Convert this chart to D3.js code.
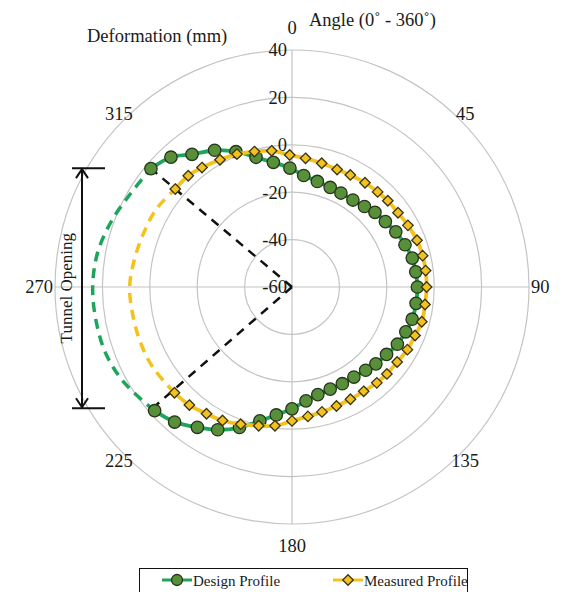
<!DOCTYPE html>
<html>
<head>
<meta charset="utf-8">
<script src="https://cdn.jsdelivr.net/npm/d3@7"></script>
<style>
  body { margin: 0; background: #fff; }
  svg { display: block; font-family: "Liberation Serif", "DejaVu Serif", serif; }
</style>
</head>
<body>
<svg id="chart" width="562" height="592"></svg>
<script>
// measured points (angle in degrees clockwise from top, deformation in mm)
var pointAngles = [310, 317, 323, 330.5, 337.5, 344.5, 351.5, 359, 6, 13.5, 21, 27.5, 35, 42, 48, 55, 62, 69.5, 76.5, 83,
                   90, 97.5, 105, 111.5, 118.5, 125.5, 132.5, 138.5, 145.5, 152.5, 159.5, 166.5, 173, 180, 187, 193.5,
                   200.5, 207.5, 214, 221, 228];
var designValues = [17.7, 14.9, 10.1, 6.3, 1.8, -3.2, -6.8, -9.8, -12.7, -14.2, -15.0, -15.3, -15.2, -14.3, -12.9, -11.9,
                    -10.4, -9.1, -7.8, -7.4, -7.1, -7.2, -7.5, -8.4, -9.4, -11.0, -12.0, -13.1, -13.9, -14.0, -14.0, -13.3,
                    -11.6, -8.6, -5.6, -1.9, 3.3, 7.9, 11.4, 15.5, 18.0];
var measuredValues = [4.3, 4.2, 3.1, 1.7, 0.7, -0.7, -1.9, -4.3, -5.4, -6.3, -6.9, -6.7, -6.3, -6.0, -5.6, -5.4, -4.6,
                      -3.7, -3.3, -3.2, -3.2, -3.4, -3.3, -4.2, -4.6, -5.5, -5.7, -6.0, -6.6, -6.6, -6.4, -5.8, -5.0,
                      -3.5, -1.0, 0.2, 1.8, 3.5, 4.5, 6.0, 6.7];

// tunnel opening (dashed) part
var gapAngles = [228, 240, 250, 260, 270, 280, 290, 300, 310];
var designGap = [18.0, 21.4, 23.4, 23.9, 24.1, 23.3, 21.1, 18.7, 17.7];
var measuredGap = [6.7, 7.8, 8.1, 8.2, 8.5, 7.5, 6.6, 6.0, 4.3];

var openingAngles = [310, 229];
var openingDepth = 18;

var radialTicks = [-60, -40, -20, 0, 20, 40];
var angleTicks = [0, 45, 90, 135, 180, 225, 270, 315];
var seriesNames = ["Design Profile", "Measured Profile"];

var greenLine = "#1fa55b", greenFill = "#58903a";
var yellowLine = "#f5c21b", yellowFill = "#f3c21e";

var width = 562, height = 592;
var cx = 292, cy = 287, R = 237;

var svg = d3.select("#chart");
var g = svg.append("g").attr("transform", "translate(" + cx + "," + cy + ")");

var r = d3.scaleLinear().domain([-60, 40]).range([0, R]);
var rad = function(a) { return a * Math.PI / 180; };

// rings
g.selectAll(".ring")
    .data(radialTicks.slice(1))
    .enter().append("circle")
    .attr("r", function(d) { return r(d); })
    .attr("fill", "none")
    .attr("stroke", "#c4c4c4")
    .attr("stroke-width", 1.2);

// cross spokes
g.append("line").attr("x1", 0).attr("y1", -R).attr("x2", 0).attr("y2", R)
    .attr("stroke", "#c4c4c4").attr("stroke-width", 1.2);
g.append("line").attr("x1", -R).attr("y1", 0).attr("x2", R).attr("y2", 0)
    .attr("stroke", "#c4c4c4").attr("stroke-width", 1.2);

// radial tick labels
g.selectAll(".rlabel")
    .data(radialTicks)
    .enter().append("text")
    .attr("x", -5)
    .attr("y", function(d) { return -r(d); })
    .attr("dy", "0.35em")
    .attr("text-anchor", "end")
    .attr("font-size", 18.5)
    .attr("fill", "#1a1a1a")
    .text(function(d) { return d; });

// angle labels
var labelOffset = function(d) { return (d % 90 === 0) ? (d % 180 === 0 ? 22 : 2) : 8; };
var labelAnchor = function(d) { return d === 90 ? "start" : (d === 270 ? "end" : "middle"); };
g.selectAll(".alabel")
    .data(angleTicks)
    .enter().append("text")
    .attr("x", function(d) { return (R + labelOffset(d)) * Math.sin(rad(d)); })
    .attr("y", function(d) { return -(R + labelOffset(d)) * Math.cos(rad(d)); })
    .attr("dy", "0.35em")
    .attr("text-anchor", labelAnchor)
    .attr("font-size", 18.5)
    .attr("fill", "#1a1a1a")
    .text(function(d) { return d; });

svg.append("text").attr("x", 87).attr("y", 42).attr("font-size", 18.5).attr("fill", "#1a1a1a")
    .text("Deformation (mm)");
svg.append("text").attr("x", 309).attr("y", 26).attr("font-size", 18.5).attr("fill", "#1a1a1a")
    .text("Angle (0\u02da - 360\u02da)");

var radial = function(angles, values, curve) {
    return d3.lineRadial()
        .angle(function(d, i) { return rad(angles[i]); })
        .radius(function(d) { return r(d); })
        .curve(curve)(values);
};

// dashed tunnel-opening parts
g.append("path").attr("d", radial(gapAngles, designGap, d3.curveCatmullRom))
    .attr("fill", "none").attr("stroke", greenLine).attr("stroke-width", 3.5)
    .attr("stroke-dasharray", "10,7");
g.append("path").attr("d", radial(gapAngles, measuredGap, d3.curveCatmullRom))
    .attr("fill", "none").attr("stroke", yellowLine).attr("stroke-width", 3.5)
    .attr("stroke-dasharray", "10,7");

var pt = function(a, v) { return [r(v) * Math.sin(rad(a)), -r(v) * Math.cos(rad(a))]; };

// series: design
g.append("path").attr("d", radial(pointAngles, designValues, d3.curveCatmullRom))
    .attr("fill", "none").attr("stroke", greenLine).attr("stroke-width", 3.8);

// opening lines from the centre
openingAngles.forEach(function(a) {
    var p = pt(a, openingDepth);
    g.append("line").attr("x1", 0).attr("y1", 0).attr("x2", p[0]).attr("y2", p[1])
        .attr("stroke", "#111").attr("stroke-width", 2.5).attr("stroke-dasharray", "9,7");
});

g.selectAll(".dpt")
    .data(designValues)
    .enter().append("circle")
    .attr("cx", function(d, i) { return pt(pointAngles[i], d)[0]; })
    .attr("cy", function(d, i) { return pt(pointAngles[i], d)[1]; })
    .attr("r", 6.2)
    .attr("fill", greenFill)
    .attr("stroke", "#26351c")
    .attr("stroke-width", 1.3);

// series: measured
g.append("path").attr("d", radial(pointAngles, measuredValues, d3.curveCatmullRom))
    .attr("fill", "none").attr("stroke", yellowLine).attr("stroke-width", 3.8);

var diamond = d3.symbol().type(d3.symbolDiamond2).size(70);
g.selectAll(".mpt")
    .data(measuredValues)
    .enter().append("path")
    .attr("d", diamond)
    .attr("transform", function(d, i) { var p = pt(pointAngles[i], d); return "translate(" + p[0] + "," + p[1] + ")"; })
    .attr("fill", yellowFill)
    .attr("stroke", "#3a3416")
    .attr("stroke-width", 1.3);

// tunnel opening arrow
var yTop = cy + pt(openingAngles[0], openingDepth)[1];
var yBot = cy + pt(openingAngles[1], openingDepth)[1];
var ax = 82;
var ann = svg.append("g").attr("stroke", "#111").attr("stroke-width", 2).attr("fill", "none");
ann.append("line").attr("x1", ax).attr("y1", yTop).attr("x2", ax).attr("y2", yBot);
ann.append("line").attr("x1", ax - 10).attr("y1", yTop).attr("x2", ax + 23).attr("y2", yTop);
ann.append("line").attr("x1", ax - 10).attr("y1", yBot).attr("x2", ax + 23).attr("y2", yBot);
ann.append("path").attr("d", "M" + (ax - 6) + "," + (yTop + 10) + "L" + ax + "," + (yTop + 1) + "L" + (ax + 6) + "," + (yTop + 10));
ann.append("path").attr("d", "M" + (ax - 6) + "," + (yBot - 10) + "L" + ax + "," + (yBot - 1) + "L" + (ax + 6) + "," + (yBot - 10));
svg.append("text")
    .attr("transform", "translate(" + (ax - 10) + "," + ((yTop + yBot) / 2) + ") rotate(-90)")
    .attr("text-anchor", "middle")
    .attr("font-size", 17)
    .attr("fill", "#1a1a1a")
    .text("Tunnel Opening");

// legend
var lg = svg.append("g");
lg.append("rect").attr("x", 139.5).attr("y", 568.5).attr("width", 328).attr("height", 40)
    .attr("fill", "#fff").attr("stroke", "#111").attr("stroke-width", 1);
var legendX = [162, 333];
seriesNames.forEach(function(name, i) {
    var x0 = legendX[i];
    lg.append("line").attr("x1", x0).attr("y1", 580).attr("x2", x0 + 30).attr("y2", 580)
        .attr("stroke", i === 0 ? greenLine : yellowLine).attr("stroke-width", 3);
    if (i === 0) {
        lg.append("circle").attr("cx", x0 + 15).attr("cy", 580).attr("r", 5.5)
            .attr("fill", greenFill).attr("stroke", "#26351c").attr("stroke-width", 1.3);
    } else {
        lg.append("path").attr("d", diamond).attr("transform", "translate(" + (x0 + 15) + ",580)")
            .attr("fill", yellowFill).attr("stroke", "#3a3416").attr("stroke-width", 1.3);
    }
    lg.append("text").attr("x", x0 + 31).attr("y", 585.5).attr("font-size", 15).attr("fill", "#1a1a1a").text(name);
});
</script>
</body>
</html>
